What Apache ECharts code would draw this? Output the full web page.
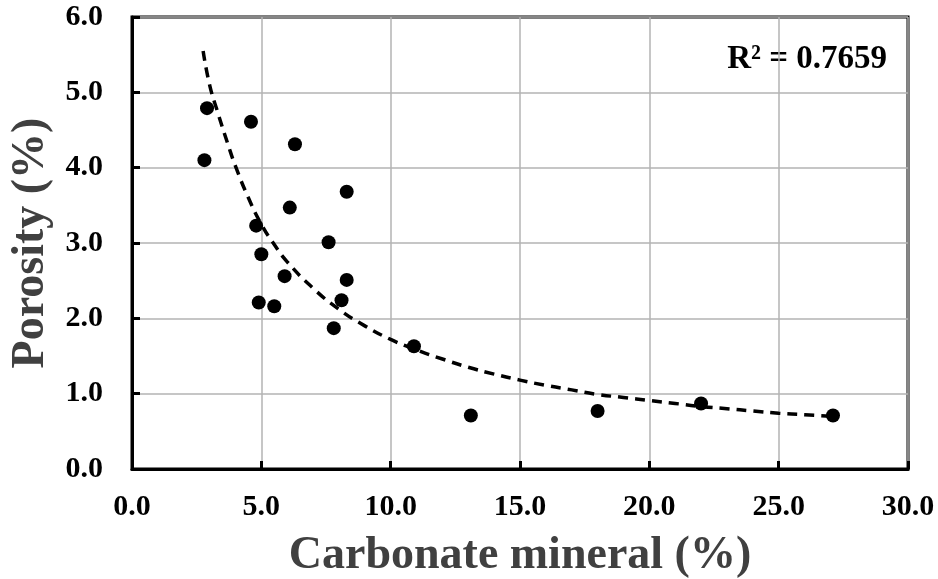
<!DOCTYPE html>
<html>
<head>
<meta charset="utf-8">
<script src="https://cdn.jsdelivr.net/npm/echarts@6/dist/echarts.min.js"></script>
<style>
  html, body { margin: 0; padding: 0; background: #fff; }
  #chart { width: 938px; height: 579px; }
</style>
</head>
<body>
<div id="chart"></div>
<script>
// measured points: carbonate mineral (%) vs porosity (%)
var carbonate = [2.9, 4.6, 6.3, 2.8, 8.3, 6.1, 4.8, 7.6, 5.0, 5.9, 8.3, 8.1, 4.9, 5.5, 7.8, 10.9, 13.1, 18.0, 22.0, 27.1];
var porosity = [4.79, 4.61, 4.31, 4.10, 3.68, 3.47, 3.23, 3.01, 2.85, 2.56, 2.51, 2.24, 2.21, 2.16, 1.87, 1.63, 0.71, 0.77, 0.87, 0.71];

// power trend line
var trendX = [2.75, 3.0, 3.3, 3.7, 4.0, 4.5, 5.0, 5.5, 6.0, 7.0, 8.0, 9.0, 10.0, 11.0, 12.0, 13.0, 14.0, 15.0, 16.0, 17.0, 18.0, 19.0, 20.0, 21.0, 22.0, 23.0, 24.0, 25.0, 26.0, 27.0];
var trendY = [5.55, 5.10, 4.75, 4.32, 4.02, 3.60, 3.25, 2.98, 2.75, 2.40, 2.12, 1.90, 1.72, 1.58, 1.46, 1.35, 1.26, 1.18, 1.11, 1.05, 0.99, 0.95, 0.91, 0.87, 0.83, 0.80, 0.77, 0.74, 0.72, 0.70];

var rSquared = "R\u00b2 = 0.7659";

var font = "'Liberation Serif', 'Times New Roman', serif";

var points = carbonate.map(function (x, i) { return [x, porosity[i]]; });
var trend = trendX.map(function (x, i) { return [x, trendY[i]]; });

var myChart = echarts.init(document.getElementById("chart"));
var option = {
  animation: false,
  backgroundColor: "#fff",
  grid: {
    left: 132,
    right: 30,
    top: 17,
    bottom: 110,
    outerBoundsMode: "none",
    containLabel: false,
    show: true,
    borderColor: "#000",
    borderWidth: 3
  },
  xAxis: {
    type: "value",
    min: 0,
    max: 30,
    interval: 5,
    name: "Carbonate mineral (%)",
    nameLocation: "middle",
    nameGap: 64,
    nameTextStyle: { fontFamily: font, fontWeight: "bold", fontSize: 46, color: "#404040" },
    axisLine: { lineStyle: { color: "#000", width: 3 } },
    axisTick: { inside: true, length: 8, lineStyle: { color: "#000", width: 3 } },
    axisLabel: {
      margin: 23,
      fontFamily: font, fontWeight: "bold", fontSize: 30, color: "#000",
      formatter: function (v) { return v.toFixed(1); }
    },
    splitLine: { show: true, lineStyle: { color: "#b3b3b3", width: 1.5 } }
  },
  yAxis: {
    type: "value",
    min: 0,
    max: 6,
    interval: 1,
    name: "Porosity (%)",
    nameLocation: "middle",
    nameGap: 78,
    nameTextStyle: { fontFamily: font, fontWeight: "bold", fontSize: 46, color: "#404040" },
    axisLine: { lineStyle: { color: "#000", width: 3 } },
    axisTick: { inside: true, length: 8, lineStyle: { color: "#000", width: 3 } },
    axisLabel: {
      margin: 29,
      fontFamily: font, fontWeight: "bold", fontSize: 30, color: "#000",
      formatter: function (v) { return v.toFixed(1); }
    },
    splitLine: { show: true, lineStyle: { color: "#b3b3b3", width: 1.5 } }
  },
  graphic: [
    {
      type: "text",
      right: 51,
      top: 43,
      style: { text: rSquared, fontFamily: font, fontWeight: "bold", fontSize: 33, fill: "#000" }
    }
  ],
  series: [
    {
      type: "line",
      data: trend,
      smooth: true,
      showSymbol: false,
      lineStyle: { color: "#000", width: 3.5, type: [10, 7] },
      z: 2
    },
    {
      type: "scatter",
      data: points,
      symbol: "circle",
      symbolSize: 14,
      itemStyle: { color: "#000", opacity: 1 },
      z: 3
    }
  ]
};
myChart.setOption(option);
</script>
</body>
</html>
